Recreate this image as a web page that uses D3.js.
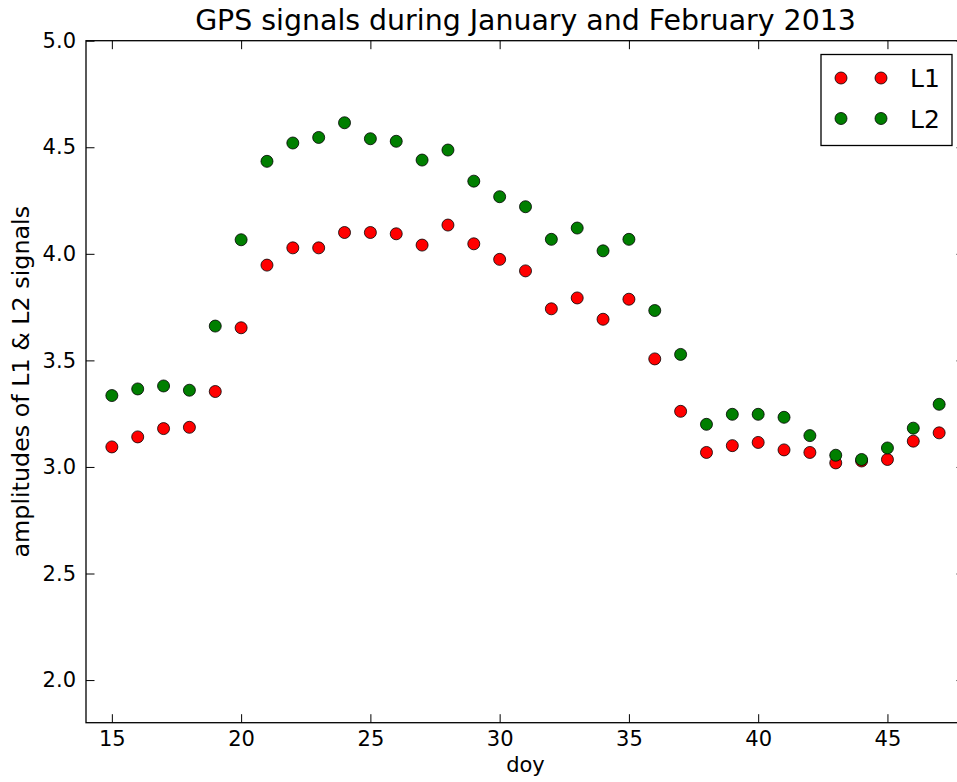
<!DOCTYPE html>
<html>
<head>
<meta charset="utf-8">
<script src="https://cdn.jsdelivr.net/npm/d3@7"></script>
<style>
  body { margin: 0; background: #fff; }
  svg { display: block; font-family: "DejaVu Sans", sans-serif; }
</style>
</head>
<body>
<div id="chart"></div>
<script>
// day of year
const days = [15, 16, 17, 18, 19, 20, 21, 22, 23, 24, 25, 26, 27, 28, 29, 30, 31,
  32, 33, 34, 35, 36, 37, 38, 39, 40, 41, 42, 43, 44, 45, 46, 47];

const l1Values = [3.094, 3.141, 3.180, 3.186, 3.354, 3.653, 3.947, 4.028, 4.028, 4.100,
  4.100, 4.094, 4.041, 4.135, 4.047, 3.974, 3.920, 3.742, 3.793, 3.693, 3.787, 3.507,
  3.261, 3.068, 3.100, 3.115, 3.080, 3.068, 3.019, 3.028, 3.035, 3.121, 3.160];

const l2Values = [3.335, 3.366, 3.380, 3.360, 3.661, 4.066, 4.434, 4.520, 4.546, 4.615,
  4.540, 4.528, 4.440, 4.487, 4.341, 4.268, 4.221, 4.068, 4.121, 4.014, 4.068, 3.734,
  3.528, 3.200, 3.247, 3.247, 3.233, 3.147, 3.055, 3.035, 3.089, 3.182, 3.294];

const xTicks = [15, 20, 25, 30, 35, 40, 45];
const yTicks = [2.0, 2.5, 3.0, 3.5, 4.0, 4.5, 5.0];

const series = [
  { name: 'L1', values: l1Values, color: '#ff0000' },
  { name: 'L2', values: l2Values, color: '#007f00' }
];

const W = 957, H = 782;
const margin = { top: 40.7, left: 86 };
const width = 879;
const height = 682;

const svg = d3.select('#chart')
  .append('svg')
  .attr('width', W)
  .attr('height', H);

const g = svg.append('g')
  .attr('transform', `translate(${margin.left},${margin.top})`);

const x = d3.scaleLinear().domain([14, 48]).range([0, width]);
const y = d3.scaleLinear().domain([1.8, 5.0]).range([height, 0]);

// axes, ticks pointing inward like matplotlib classic
const xAxis = g.append('g')
  .attr('transform', `translate(0,${height})`)
  .call(d3.axisBottom(x).tickValues(xTicks).tickSizeInner(-8.5).tickSizeOuter(0).tickPadding(8));
const xTop = g.append('g')
  .call(d3.axisTop(x).tickValues(xTicks).tickSizeInner(-8.5).tickSizeOuter(0).tickFormat(''));
const yAxis = g.append('g')
  .call(d3.axisLeft(y).tickValues(yTicks).tickSizeInner(-8.5).tickSizeOuter(0).tickPadding(10)
    .tickFormat(d3.format('.1f')));
const yRight = g.append('g')
  .attr('transform', `translate(${width},0)`)
  .call(d3.axisRight(y).tickValues(yTicks).tickSizeInner(-8.5).tickSizeOuter(0).tickFormat(''));

[xAxis, xTop, yAxis, yRight].forEach(a => {
  a.select('.domain').remove();
  a.selectAll('.tick line').attr('stroke', '#000').attr('stroke-width', 1);
  a.selectAll('.tick text')
    .attr('fill', '#000')
    .style('font-size', '21px')
    .style('font-family', '"DejaVu Sans", sans-serif');
});

// frame
g.append('rect')
  .attr('x', 0)
  .attr('y', 0)
  .attr('width', width)
  .attr('height', height)
  .attr('fill', 'none')
  .attr('stroke', '#000')
  .attr('stroke-width', 1.3);

// points
series.forEach(s => {
  g.append('g')
    .selectAll('circle')
    .data(days.map((d, i) => ({ day: d, value: s.values[i] })))
    .enter()
    .append('circle')
    .attr('cx', d => x(d.day))
    .attr('cy', d => y(d.value))
    .attr('r', 6)
    .attr('fill', s.color)
    .attr('stroke', '#000')
    .attr('stroke-width', 0.8);
});

// title and labels
svg.append('text')
  .attr('x', margin.left + width / 2)
  .attr('y', 29.5)
  .attr('text-anchor', 'middle')
  .style('font-size', '28.4px')
  .text('GPS signals during January and February 2013');

svg.append('text')
  .attr('x', margin.left + width / 2)
  .attr('y', 772)
  .attr('text-anchor', 'middle')
  .style('font-size', '21px')
  .text('doy');

svg.append('text')
  .attr('transform', `translate(29,${margin.top + height / 2}) rotate(-90)`)
  .attr('text-anchor', 'middle')
  .style('font-size', '23.8px')
  .text('amplitudes of L1 & L2 signals');

// legend
const legend = svg.append('g').attr('transform', 'translate(821,54.5)');
legend.append('rect')
  .attr('width', 131)
  .attr('height', 91)
  .attr('fill', '#fff')
  .attr('stroke', '#000')
  .attr('stroke-width', 1.3);

series.forEach((s, i) => {
  const row = legend.append('g').attr('transform', `translate(0,${23.5 + i * 40.5})`);
  [20, 60].forEach(cx => {
    row.append('circle')
      .attr('cx', cx)
      .attr('cy', 0)
      .attr('r', 6)
      .attr('fill', s.color)
      .attr('stroke', '#000')
      .attr('stroke-width', 0.8);
  });
  row.append('text')
    .attr('x', 89)
    .attr('y', 9)
    .style('font-size', '25px')
    .text(s.name);
});
</script>
</body>
</html>
